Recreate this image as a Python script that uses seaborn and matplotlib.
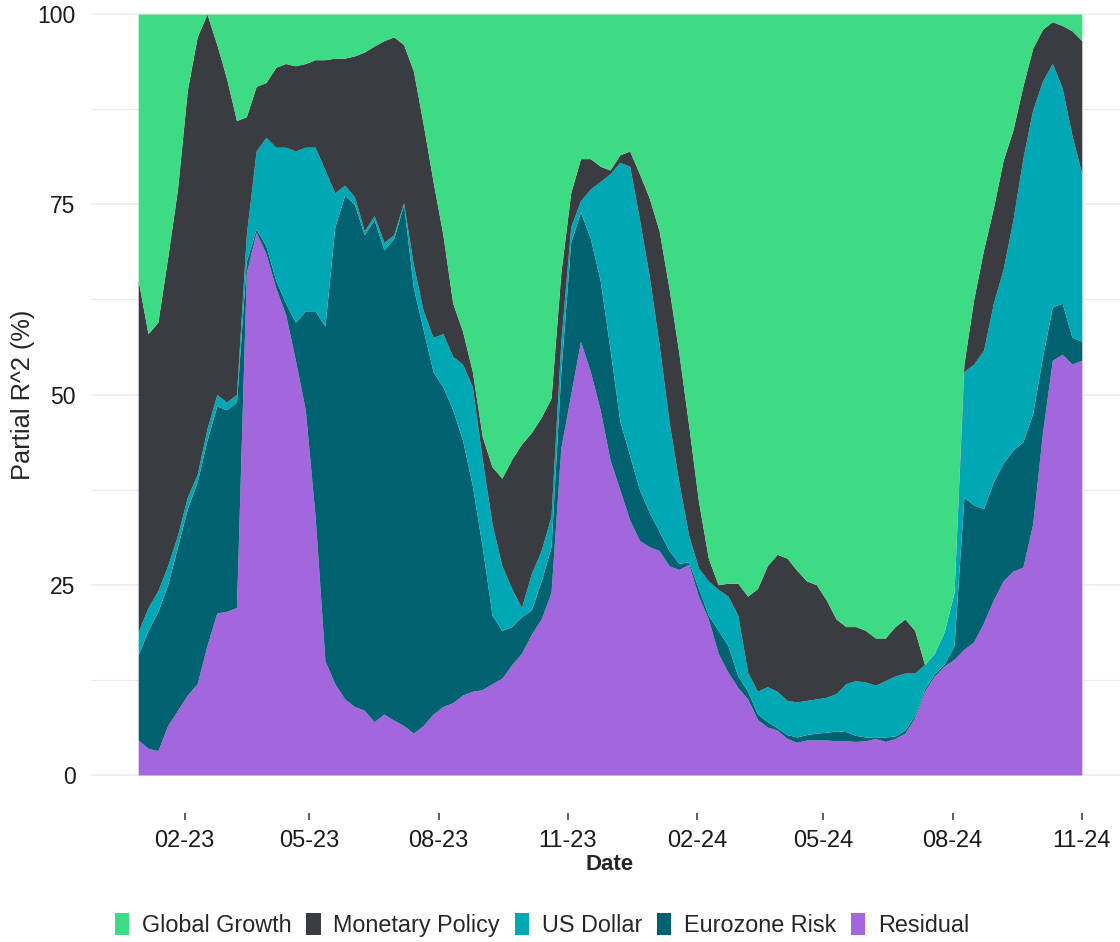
import pandas as pd
import matplotlib
matplotlib.use("Agg")
import matplotlib.pyplot as plt
import matplotlib.dates as mdates
import seaborn as sns

# weekly observations, Dec 2022 - Oct 2024 (shares of partial R^2, %)
dates = pd.date_range("2022-12-30", periods=97, freq="7D")

residual = [4.6, 3.5, 3.2, 6.5, 8.5, 10.5, 12.0, 17.0, 21.3, 21.5,
            22.0, 66.0, 71.3, 68.5, 64.0, 60.5, 54.5, 48.0, 34.0, 15.0,
            12.0, 10.0, 9.0, 8.5, 7.0, 8.0, 7.2, 6.5, 5.5, 6.5,
            8.0, 9.0, 9.5, 10.5, 11.0, 11.2, 12.0, 12.7, 14.5, 16.0,
            18.5, 20.5, 24.0, 43.0, 50.0, 57.0, 53.0, 48.0, 41.4, 37.5,
            33.5, 30.8, 30.0, 29.5, 27.5, 27.0, 27.7, 23.5, 20.5, 16.0,
            13.5, 11.5, 10.0, 7.3, 6.3, 5.9, 4.8, 4.3, 4.6, 4.6,
            4.6, 4.5, 4.5, 4.4, 4.5, 4.8, 4.4, 4.8, 5.5, 7.5,
            11.0, 13.0, 14.3, 15.2, 16.5, 17.5, 20.0, 23.0, 25.5, 26.8,
            27.3, 33.0, 45.0, 54.5, 55.3, 54.0, 54.5]

eurozone_risk = [11.2, 15.5, 18.3, 18.5, 21.5, 24.5, 26.5, 27.0, 27.2, 26.5,
                 27.0, 1.5, 0.5, 1.0, 1.0, 1.5, 5.0, 13.0, 27.0, 44.0,
                 60.0, 66.2, 66.0, 62.5, 66.0, 61.0, 63.3, 68.5, 58.5, 52.0,
                 45.0, 42.0, 38.5, 33.5, 27.0, 18.8, 9.0, 6.3, 5.0, 4.8,
                 3.2, 5.0, 6.0, 10.0, 20.0, 17.0, 17.5, 17.0, 14.6, 9.0,
                 8.5, 6.7, 4.5, 2.5, 2.0, 0.8, 0.3, 1.0, 0.5, 3.0,
                 3.5, 1.5, 1.0, 0.7, 0.7, 0.3, 0.5, 0.7, 0.7, 0.9,
                 1.0, 1.3, 1.2, 0.8, 0.5, 0.2, 0.6, 0.3, 0.4, 0.3,
                 0.3, 0.3, 0.3, 1.8, 20.0, 18.0, 15.0, 15.5, 15.5, 15.9,
                 16.5, 14.5, 10.0, 7.0, 6.7, 3.5, 2.5]

us_dollar = [3.0, 3.0, 2.7, 2.5, 1.5, 1.5, 1.0, 1.5, 1.5, 1.0,
             1.0, 3.5, 10.2, 14.3, 17.5, 20.5, 22.5, 21.5, 21.5, 20.5,
             4.5, 1.3, 1.0, 0.5, 0.5, 1.0, 0.5, 0.2, 3.0, 2.5,
             4.5, 7.0, 7.0, 10.0, 13.0, 11.5, 12.0, 8.5, 5.0, 1.2,
             4.8, 4.0, 4.0, 4.0, 2.0, 1.5, 6.5, 13.0, 23.0, 34.0,
             38.0, 35.5, 31.0, 24.5, 17.0, 10.7, 3.5, 2.7, 4.5, 5.4,
             6.5, 8.0, 2.5, 3.0, 4.6, 4.8, 4.5, 4.6, 4.5, 4.5,
             4.6, 4.9, 6.3, 7.2, 7.2, 6.8, 7.4, 7.9, 7.5, 5.6,
             3.2, 2.7, 4.2, 7.0, 16.5, 18.5, 20.8, 23.5, 25.5, 30.3,
             37.2, 39.9, 36.2, 32.0, 28.3, 26.5, 22.0]

monetary_policy = [46.2, 36.0, 35.3, 40.5, 45.5, 53.5, 57.5, 54.5, 46.0, 42.5,
                   36.0, 15.5, 8.5, 7.2, 10.5, 11.0, 11.2, 11.0, 11.5, 14.5,
                   17.7, 16.7, 18.5, 23.5, 22.3, 26.5, 26.0, 20.8, 25.5, 24.5,
                   20.5, 13.0, 7.0, 4.3, 2.0, 3.0, 7.5, 11.5, 17.0, 21.5,
                   18.5, 17.5, 15.5, 9.0, 4.5, 5.5, 4.0, 2.0, 0.5, 1.0,
                   2.0, 6.0, 10.3, 15.0, 17.5, 17.0, 14.5, 8.8, 3.0, 0.6,
                   1.7, 4.2, 10.0, 13.5, 15.9, 18.0, 18.7, 17.3, 15.7, 15.0,
                   12.8, 9.8, 7.5, 7.1, 6.8, 6.2, 5.6, 6.5, 7.1, 5.6,
                   0.0, 0.0, 0.0, 0.0, 1.0, 8.5, 13.2, 12.5, 14.3, 11.8,
                   9.5, 8.1, 6.8, 5.5, 8.2, 13.8, 17.5]

global_growth = [35.0, 42.0, 40.5, 32.0, 23.0, 10.0, 3.0, 0.0, 4.0, 8.5,
                 14.0, 13.5, 9.5, 9.0, 7.0, 6.5, 6.8, 6.5, 6.0, 6.0,
                 5.8, 5.8, 5.5, 5.0, 4.2, 3.5, 3.0, 4.0, 7.5, 14.5,
                 22.0, 29.0, 38.0, 41.7, 47.0, 55.5, 59.5, 61.0, 58.5, 56.5,
                 55.0, 53.0, 50.5, 34.0, 23.5, 19.0, 19.0, 20.0, 20.5, 18.5,
                 18.0, 21.0, 24.2, 28.5, 36.0, 44.5, 54.0, 64.0, 71.5, 75.0,
                 74.8, 74.8, 76.5, 75.5, 72.5, 71.0, 71.5, 73.1, 74.5, 75.0,
                 77.0, 79.5, 80.5, 80.5, 81.0, 82.0, 82.0, 80.5, 79.5, 81.0,
                 85.5, 84.0, 81.2, 76.0, 46.0, 37.5, 31.0, 25.5, 19.2, 15.2,
                 9.5, 4.5, 2.0, 1.0, 1.5, 2.2, 3.5]

# stacking order bottom -> top
labels = ["Residual", "Eurozone Risk", "US Dollar", "Monetary Policy", "Global Growth"]
palette = sns.color_palette(["#a267dd", "#006170", "#00a8b5", "#393d42", "#3ddc84"])

sns.set_theme(style="white")
plt.rcParams['font.family'] = ['Liberation Sans', 'DejaVu Sans']

fig = plt.figure(figsize=(11.2, 9.42), dpi=100)
# panel extends a little past the top/right of the canvas like the original
ax = fig.add_axes([91 / 1120, 129 / 942, 1038 / 1120, 837 / 942])

polys = ax.stackplot(dates, residual, eurozone_risk, us_dollar, monetary_policy,
                     global_growth, colors=palette, labels=labels, linewidth=0,
                     zorder=2)

# 5% expansion on both axes
span = dates[-1] - dates[0]
pad = span * 0.05
ax.set_xlim(dates[0] - pad, dates[-1] + pad)
ax.set_ylim(-5, 105)

ax.set_yticks([0, 25, 50, 75, 100])
ax.set_yticks([12.5, 37.5, 62.5, 87.5], minor=True)
ax.grid(axis="y", which="major", color="#ebebeb", linewidth=1.1, zorder=0)
ax.grid(axis="y", which="minor", color="#ebebeb", linewidth=0.8, zorder=0)
ax.grid(axis="x", visible=False)
ax.set_axisbelow(True)

ax.xaxis.set_major_locator(mdates.MonthLocator(bymonth=[2, 5, 8, 11]))
ax.xaxis.set_major_formatter(mdates.DateFormatter("%m-%y"))

for s in ax.spines.values():
    s.set_visible(False)

ax.tick_params(axis="y", length=0, pad=11, labelsize=16.5, labelcolor="#1a1a1a")
ax.tick_params(axis="x", length=5, width=1.1, color="#333333", pad=7,
               labelsize=17, labelcolor="#1a1a1a", bottom=True)

ax.set_xlabel("Date", fontsize=16, fontweight="bold", labelpad=2)
ax.set_ylabel("Partial R^2 (%)", fontsize=18.3)
ax.yaxis.set_label_coords(-(91 - 35) / 1038, (813 - 394.5) / 837)

handles = polys[::-1]
fig.legend(handles, labels[::-1], loc="center", bbox_to_anchor=(542 / 1120, 1 - 925 / 942),
           ncol=5, frameon=False, fontsize=16.8, handlelength=0.62, handleheight=1.1,
           handletextpad=0.55, columnspacing=0.62)

fig.savefig("out.png", dpi=100)
